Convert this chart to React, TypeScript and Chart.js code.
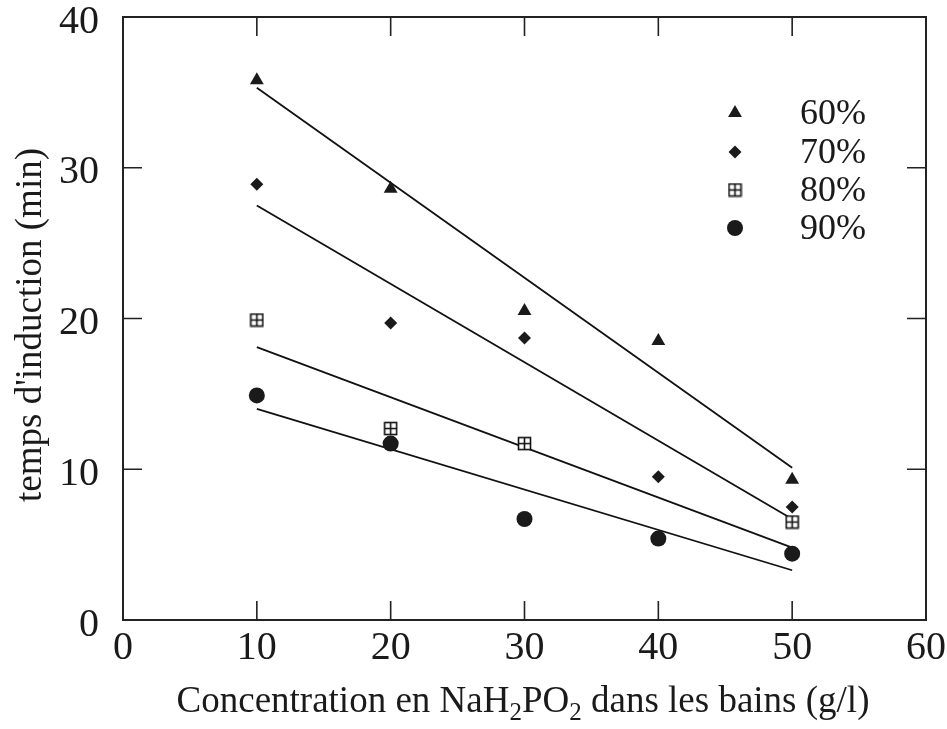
import React, { useEffect, useRef } from 'react';
import { Chart, registerables } from 'chart.js';
import { drawPoint } from 'chart.js/helpers';

Chart.register(...registerables);

// ---- Data ----
const concentrations = [10, 20, 30, 40, 50];
const series60 = [35.8, 28.6, 20.5, 18.5, 9.3];
const series70 = [28.9, 19.7, 18.7, 9.5, 7.5];
const series80: (number | null)[] = [19.9, 12.7, 11.7, null, 6.5];
const series90 = [14.9, 11.7, 6.7, 5.4, 4.4];

const fitX = [10, 50];
const fit60 = [35.3, 10.1];
const fit70 = [27.5, 6.7];
const fit80 = [18.1, 4.8];
const fit90 = [14.0, 3.3];

const seriesLabels = ['60%', '70%', '80%', '90%'];
const xTickMarks = [10, 20, 30, 40, 50];
const yTickMarks = [10, 20, 30];
const yTitle = "temps d'induction (min)";
const xTitleParts: [string, boolean][] = [
  ['Concentration en NaH', false],
  ['2', true],
  ['PO', false],
  ['2', true],
  [' dans les bains (g/l)', false],
];

const FONT = '"Liberation Serif", "Times New Roman", Times, serif';
const INK = '#1a1a1a';

function makeBoxPlus(): HTMLCanvasElement {
  const c = document.createElement('canvas');
  c.width = 15;
  c.height = 15;
  const g = c.getContext('2d')!;
  g.fillStyle = '#ffffff';
  g.fillRect(1, 1, 13, 13);
  g.strokeStyle = '#111';
  g.lineWidth = 1.6;
  g.strokeRect(1.5, 1.5, 12, 12);
  g.beginPath();
  g.moveTo(7.5, 1.5);
  g.lineTo(7.5, 13.5);
  g.moveTo(1.5, 7.5);
  g.lineTo(13.5, 7.5);
  g.stroke();
  return c;
}

const toPts = (xs: number[], ys: (number | null)[]) =>
  xs.map((x, i) => ({ x, y: ys[i] })).filter((p) => p.y !== null);

export default function App() {
  const canvasRef = useRef<HTMLCanvasElement | null>(null);

  useEffect(() => {
    document.body.style.margin = '0';
    const box = makeBoxPlus();
    const styles: any[] = [
      { pointStyle: 'triangle', radius: 8 },
      { pointStyle: 'rectRot', radius: 6.5 },
      { pointStyle: box, radius: 7.5 },
      { pointStyle: 'circle', radius: 8 },
    ];
    const values = [series60, series70, series80, series90];
    const fits = [fit60, fit70, fit80, fit90];
    const orders = [3, 2, 4, 1];

    const scatterSets = values.map((v, i) => ({
      type: 'scatter' as const,
      label: seriesLabels[i],
      data: toPts(concentrations, v),
      pointStyle: styles[i].pointStyle,
      pointRadius: styles[i].radius,
      pointHoverRadius: styles[i].radius,
      backgroundColor: INK,
      borderColor: INK,
      borderWidth: 0,
      order: orders[i],
    }));
    const lineSets = fits.map((f, i) => ({
      type: 'line' as const,
      label: 'fit ' + seriesLabels[i],
      data: toPts(fitX, f),
      borderColor: '#111',
      borderWidth: 1.8,
      pointRadius: 0,
      fill: false,
      tension: 0,
      order: 10,
    }));

    const decor = {
      id: 'decor',
      beforeDatasetsDraw(chart: any) {
        const { ctx, chartArea: a, scales } = chart;
        ctx.save();
        ctx.strokeStyle = '#222';
        ctx.lineWidth = 2;
        ctx.strokeRect(a.left, a.top, a.right - a.left, a.bottom - a.top);
        const tl = 19;
        ctx.lineWidth = 1.6;
        ctx.beginPath();
        xTickMarks.forEach((v) => {
          const px = scales.x.getPixelForValue(v);
          ctx.moveTo(px, a.bottom);
          ctx.lineTo(px, a.bottom - tl);
          ctx.moveTo(px, a.top);
          ctx.lineTo(px, a.top + tl);
        });
        yTickMarks.forEach((v) => {
          const py = scales.y.getPixelForValue(v);
          ctx.moveTo(a.left, py);
          ctx.lineTo(a.left + tl, py);
          ctx.moveTo(a.right, py);
          ctx.lineTo(a.right - tl, py);
        });
        ctx.stroke();
        ctx.restore();
      },
      afterDraw(chart: any) {
        const { ctx, chartArea: a } = chart;
        ctx.save();
        ctx.fillStyle = INK;
        ctx.strokeStyle = INK;
        // legend
        const mx = a.left + 612;
        const tx = a.left + 677;
        const rowY = [113, 152, 190, 228];
        ctx.font = `36px ${FONT}`;
        ctx.textBaseline = 'middle';
        ctx.textAlign = 'left';
        seriesLabels.forEach((lab, i) => {
          ctx.fillStyle = INK;
          ctx.lineWidth = 0;
          drawPoint(ctx, { pointStyle: styles[i].pointStyle, radius: styles[i].radius, rotation: 0, borderWidth: 0 } as any, mx, rowY[i]);
          ctx.fillStyle = INK;
          ctx.fillText(lab, tx, rowY[i] + 2);
        });
        // x title with subscripts
        const mainF = `37px ${FONT}`;
        const subF = `25px ${FONT}`;
        let total = 0;
        xTitleParts.forEach(([t, sub]) => {
          ctx.font = sub ? subF : mainF;
          total += ctx.measureText(t).width;
        });
        let x = 523 - total / 2;
        const base = 712;
        ctx.textBaseline = 'alphabetic';
        xTitleParts.forEach(([t, sub]) => {
          ctx.font = sub ? subF : mainF;
          ctx.fillText(t, x, sub ? base + 8 : base);
          x += ctx.measureText(t).width;
        });
        // y title
        ctx.translate(41, 325);
        ctx.rotate(-Math.PI / 2);
        ctx.font = mainF;
        ctx.textAlign = 'center';
        ctx.fillText(yTitle, 0, 0);
        ctx.restore();
      },
    };

    const chart = new Chart(canvasRef.current!, {
      type: 'scatter',
      data: { datasets: [...scatterSets, ...lineSets] as any },
      options: {
        animation: false,
        responsive: true,
        maintainAspectRatio: false,
        layout: { padding: { top: 17, right: 21, left: 0, bottom: 0 } },
        plugins: { legend: { display: false }, tooltip: { enabled: false } },
        scales: {
          x: {
            type: 'linear',
            min: 0,
            max: 60,
            ticks: {
              stepSize: 10,
              color: INK,
              padding: 4,
              font: { family: FONT, size: 40 },
              maxRotation: 0,
            },
            grid: { display: false, drawTicks: false },
            border: { display: false },
            afterFit(scale: any) {
              scale.height = 109;
              scale.paddingLeft = 0;
              scale.paddingRight = 0;
            },
          },
          y: {
            type: 'linear',
            min: 0,
            max: 40,
            ticks: {
              stepSize: 10,
              color: INK,
              padding: 24,
              labelOffset: 5,
              font: { family: FONT, size: 40 },
            },
            grid: { display: false, drawTicks: false },
            border: { display: false },
            afterFit(scale: any) {
              scale.width = 123;
              scale.paddingTop = 0;
              scale.paddingBottom = 0;
            },
          },
        },
      },
      plugins: [decor],
    } as any);
    return () => chart.destroy();
  }, []);

  return (
    <div style={{ position: 'absolute', left: 0, top: 0, width: 947, height: 729, background: '#fff' }}>
      <canvas ref={canvasRef} />
    </div>
  );
}
